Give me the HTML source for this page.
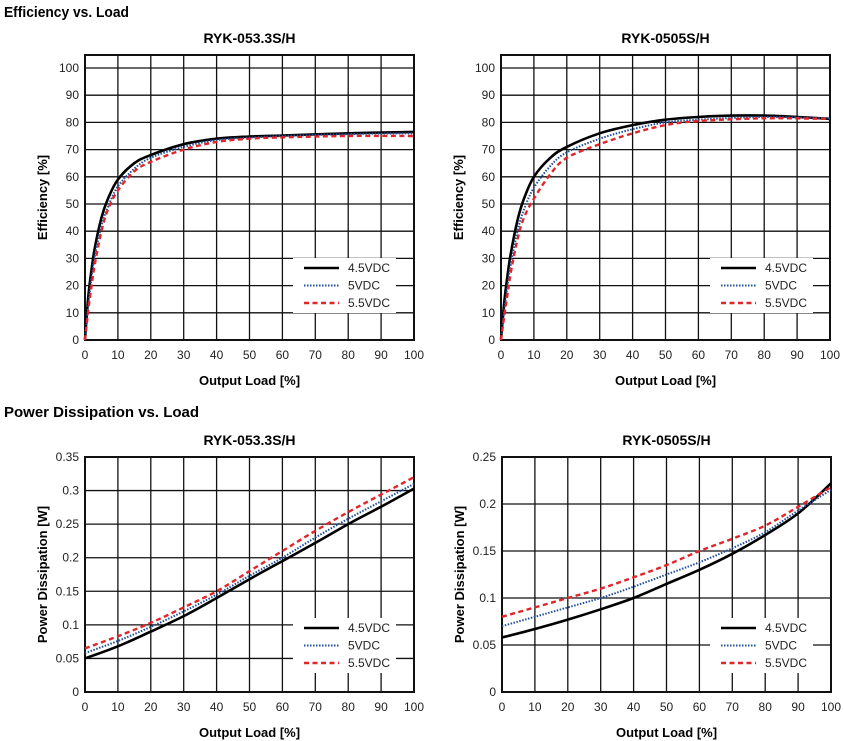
<!DOCTYPE html><html><head><meta charset="utf-8"><style>
body{margin:0;background:#fff;}
svg{display:block;font-family:"Liberation Sans",sans-serif;}
</style></head><body>
<svg id="s" width="844" height="741" viewBox="0 0 844 741" xmlns="http://www.w3.org/2000/svg">
<text x="4" y="17" font-size="15" font-weight="bold" transform="scale(0.92,1)" transform-origin="4 17">Efficiency vs. Load</text>
<text x="4" y="417" font-size="15" font-weight="bold">Power Dissipation vs. Load</text>
</svg>
<script>
const S=document.getElementById('s');let h='';
function cr(pts){let d='M'+pts[0][0].toFixed(1)+','+pts[0][1].toFixed(1);
for(let i=0;i<pts.length-1;i++){const p0=pts[i-1]||pts[i],p1=pts[i],p2=pts[i+1],p3=pts[i+2]||p2;
d+=' C'+(p1[0]+(p2[0]-p0[0])/6).toFixed(1)+','+(p1[1]+(p2[1]-p0[1])/6).toFixed(1)+' '+(p2[0]-(p3[0]-p1[0])/6).toFixed(1)+','+(p2[1]-(p3[1]-p1[1])/6).toFixed(1)+' '+p2[0].toFixed(1)+','+p2[1].toFixed(1);}return d;}
function chart(o){const{x0,x1,yb,yt,boxTop,ymax,step,title,ylabel,fmt,series,leg}=o;
const sx=v=>x0+(x1-x0)*v/100,sy=v=>yb-(yb-yt)*v/ymax;
h+=`<text x="${(x0+x1)/2}" y="${boxTop-12}" font-size="14" font-weight="bold" text-anchor="middle">${title}</text>`;
for(let i=0;i<=10;i++){const x=sx(i*10);h+=`<line x1="${x}" y1="${boxTop}" x2="${x}" y2="${yb}" stroke="#111" stroke-width="1.3"/>`;
h+=`<text x="${x}" y="${yb+19}" font-size="12" text-anchor="middle" fill="#222">${i*10}</text>`;}
for(let v=0;v<=ymax+1e-9;v+=step){const y=sy(v);h+=`<line x1="${x0}" y1="${y}" x2="${x1}" y2="${y}" stroke="#111" stroke-width="1.3"/>`;
h+=`<text x="${x0-6}" y="${y+4}" font-size="12" text-anchor="end" fill="#222">${fmt(v)}</text>`;}
h+=`<rect x="${x0}" y="${boxTop}" width="${x1-x0}" height="${yb-boxTop}" fill="none" stroke="#111" stroke-width="2"/>`;
h+=`<text x="${(x0+x1)/2}" y="${yb+45}" font-size="13" font-weight="bold" text-anchor="middle">Output Load [%]</text>`;
const cy=(boxTop+yb)/2;h+=`<text x="${x0-38}" y="${cy}" font-size="13" font-weight="bold" text-anchor="middle" transform="rotate(-90 ${x0-38} ${cy})">${ylabel}</text>`;
h+=`<rect x="${leg[0]}" y="${leg[1]}" width="103" height="55" fill="#fff"/>`;
const st=[['#000','2.6',''],['#1f4e9a','2','1.5 1.5'],['#e0262b','2.4','5 3.5']],nm=['4.5VDC','5VDC','5.5VDC'];
series.forEach((s,i)=>{const p=s.map(q=>[sx(q[0]),sy(q[1])]);
h+=`<path d="${cr(p)}" fill="none" stroke="${st[i][0]}" stroke-width="${st[i][1]}" ${st[i][2]?`stroke-dasharray="${st[i][2]}"`:''}/>`;});
for(let i=2;i>=0;i--){} 
nm.forEach((n,i)=>{const y=leg[1]+10+i*17.5;h+=`<line x1="${leg[0]+11}" y1="${y}" x2="${leg[0]+46}" y2="${y}" stroke="${st[i][0]}" stroke-width="${st[i][1]}" ${st[i][2]?`stroke-dasharray="${st[i][2]}"`:''}/>`;
h+=`<text x="${leg[0]+55}" y="${y+4}" font-size="12" fill="#222">${n}</text>`;});}
const f0=v=>Math.round(v),f2=v=>{let r=Math.round(v*100)/100;return r===0?'0':String(r);};
chart({x0:85,x1:414,yb:340,yt:68,boxTop:55,ymax:100,step:10,title:'RYK-053.3S/H',ylabel:'Efficiency [%]',fmt:f0,leg:[293,258],
series:[[[0,0],[1,16],[2,26],[3,34],[5,45],[7,52],[10,59],[15,65],[20,68],[30,72],[40,74],[50,74.8],[60,75.2],[80,76],[100,76.5]],
[[0,0],[1,13],[2,23],[3,31],[5,42],[7,49],[10,56.5],[15,63],[20,67],[30,71],[40,73.5],[50,74.4],[60,75],[80,75.7],[100,76]],
[[0,0],[1,11],[2,20],[3,28],[5,40],[7,48],[10,55],[15,62],[20,65.5],[30,70],[40,72.8],[50,74],[60,74.5],[80,75],[100,75]]]});
chart({x0:501,x1:830,yb:340,yt:68,boxTop:55,ymax:100,step:10,title:'RYK-0505S/H',ylabel:'Efficiency [%]',fmt:f0,leg:[710,258],
series:[[[0,0],[1,14],[2,24],[3,32],[5,44],[7,52],[10,60],[15,67],[20,71],[30,76],[40,79],[50,81],[60,82],[70,82.5],[80,82.5],[90,82],[100,81.3]],
[[0,0],[1,11],[2,20],[3,28],[5,40],[7,48],[10,56],[15,64],[20,69],[30,74],[40,77.5],[50,80],[60,81],[80,82],[100,81.5]],
[[0,0],[1,9],[2,17],[3,25],[5,37],[7,45],[10,52],[15,61],[20,67],[30,72],[40,76],[50,79],[60,80.5],[80,81.5],[100,81.3]]]});
chart({x0:85,x1:414,yb:692,yt:457,boxTop:457,ymax:0.35,step:0.05,title:'RYK-053.3S/H',ylabel:'Power Dissipation [W]',fmt:f2,leg:[293,618],
series:[[[0,0.05],[10,0.068],[20,0.09],[30,0.113],[40,0.14],[50,0.168],[60,0.195],[70,0.222],[80,0.25],[90,0.276],[100,0.303]],
[[0,0.058],[10,0.076],[20,0.097],[30,0.12],[40,0.145],[50,0.173],[60,0.2],[70,0.23],[80,0.258],[90,0.284],[100,0.31]],
[[0,0.065],[10,0.083],[20,0.103],[30,0.126],[40,0.15],[50,0.18],[60,0.21],[70,0.24],[80,0.268],[90,0.294],[100,0.32]]]});
chart({x0:502,x1:831,yb:692,yt:457,boxTop:457,ymax:0.25,step:0.05,title:'RYK-0505S/H',ylabel:'Power Dissipation [W]',fmt:f2,leg:[710,618],
series:[[[0,0.058],[10,0.067],[20,0.077],[30,0.088],[40,0.1],[50,0.115],[60,0.13],[70,0.147],[80,0.167],[90,0.19],[100,0.222]],
[[0,0.07],[10,0.08],[20,0.09],[30,0.1],[40,0.112],[50,0.125],[60,0.138],[70,0.153],[80,0.17],[90,0.193],[100,0.215]],
[[0,0.08],[10,0.09],[20,0.1],[30,0.11],[40,0.122],[50,0.135],[60,0.15],[70,0.163],[80,0.177],[90,0.197],[100,0.218]]]});
S.insertAdjacentHTML('beforeend',h);
</script>
</body></html>
